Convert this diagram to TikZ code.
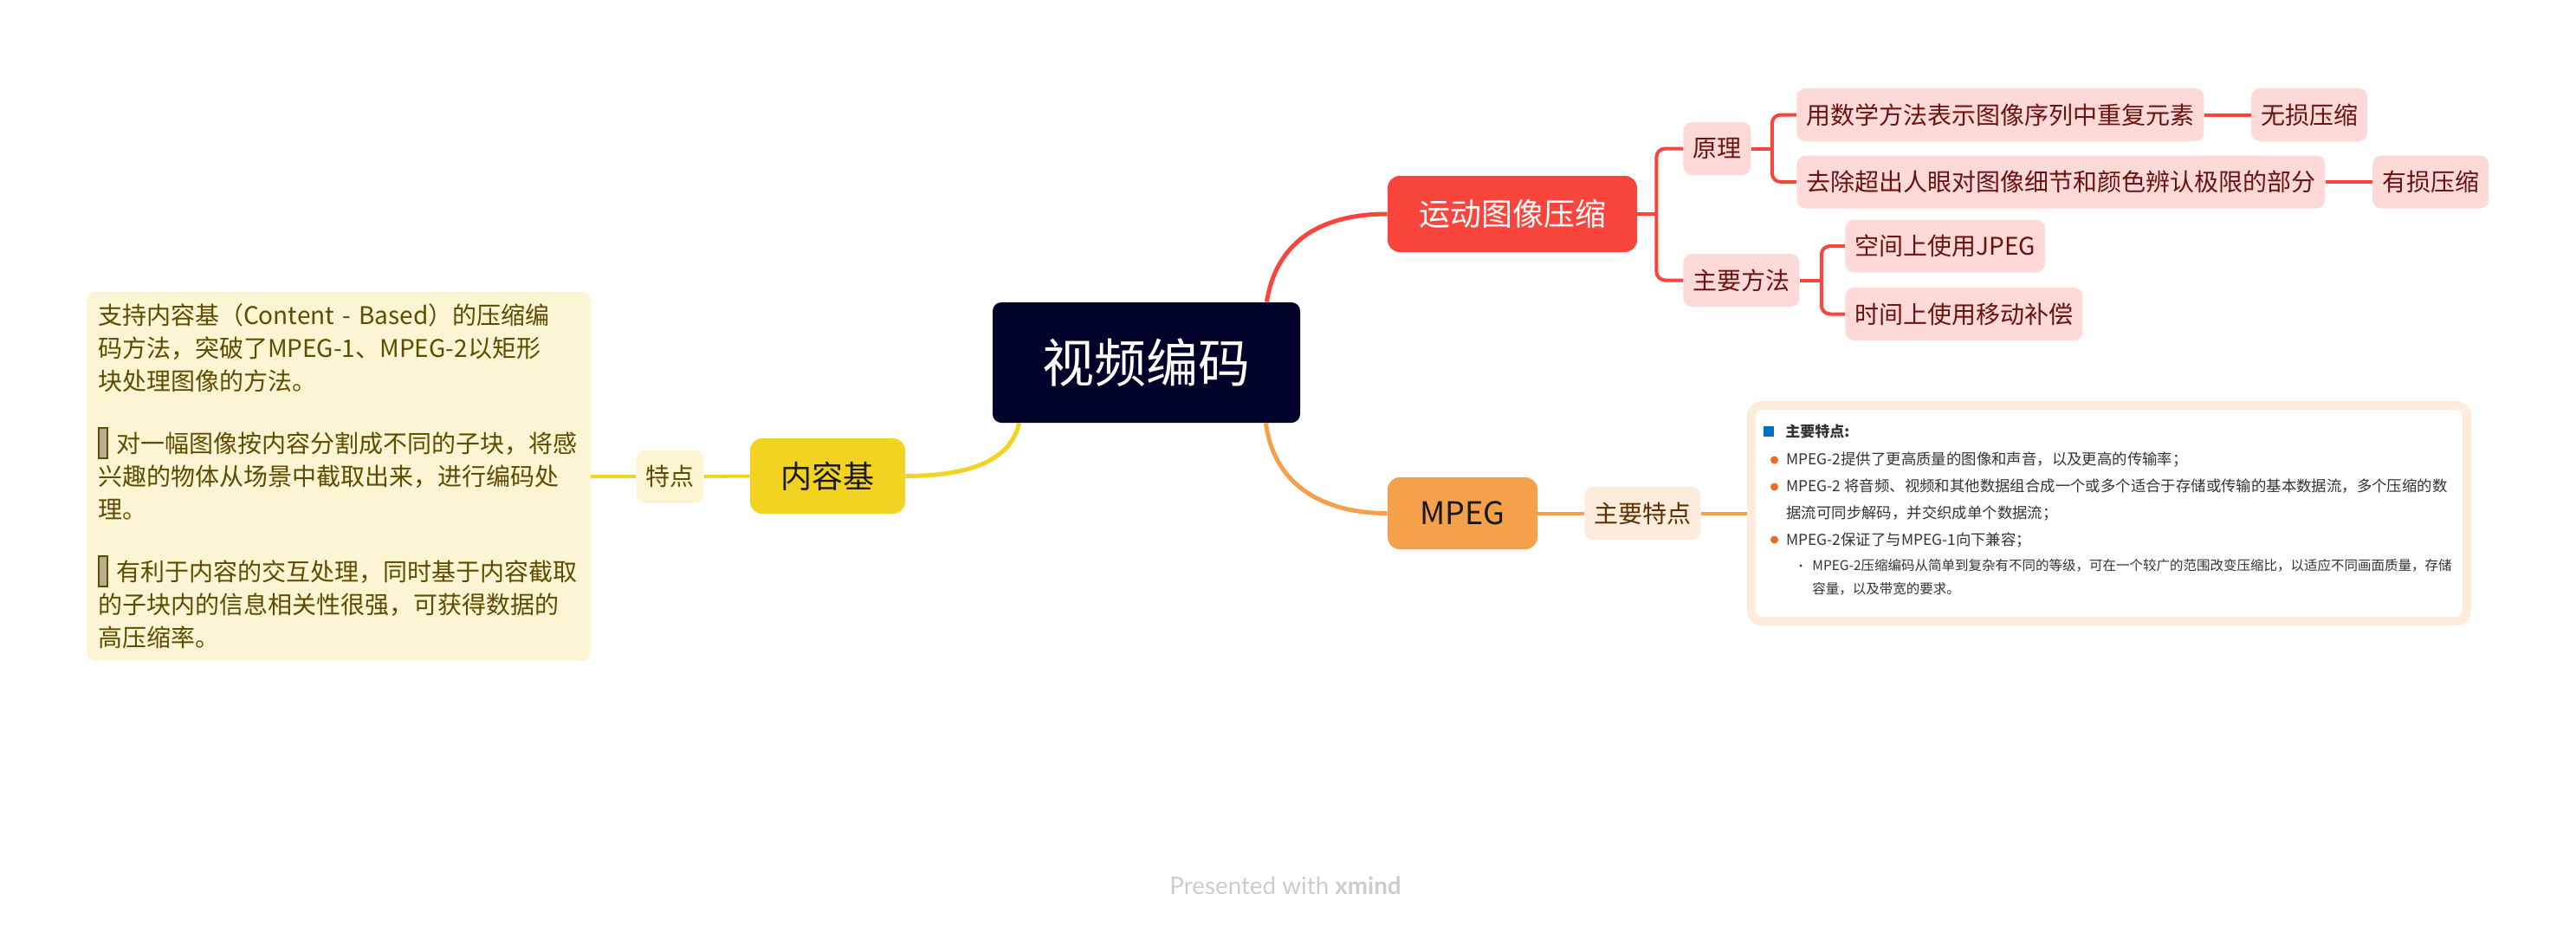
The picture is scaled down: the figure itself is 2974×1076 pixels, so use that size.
\documentclass[tikz,border=0pt]{standalone}
\usepackage{fontspec}
\setmainfont{Noto Sans CJK SC}
\newfontfamily\latofont{Lato}
\usepackage{tikz}
\usetikzlibrary{positioning,calc}
\usepackage{xcolor}

\definecolor{rootbg}{HTML}{000229}
\definecolor{redbr}{HTML}{F9453C}
\definecolor{redsub}{HTML}{FDDAD8}
\definecolor{redtxt}{HTML}{6A1212}
\definecolor{orangebr}{HTML}{F5A04B}
\definecolor{orangesub}{HTML}{FDEBDB}
\definecolor{orangetxt}{HTML}{5C2E00}
\definecolor{yellowbr}{HTML}{F2D322}
\definecolor{yellowsub}{HTML}{FCF5D3}
\definecolor{yellowtxt}{HTML}{5C4B00}
\definecolor{dotorange}{HTML}{F26B1D}
\definecolor{dotblue}{HTML}{0070C0}
\definecolor{notetxt}{HTML}{333333}

% placeholder box for the missing glyph
\newcommand\nochar{\raisebox{-0.2em}{\setlength{\fboxsep}{0pt}\setlength{\fboxrule}{0.9pt}\fcolorbox{yellowtxt}{yellowtxt!45}{\rule{0pt}{1.2em}\hspace{0.3em}}}}

\begin{document}
\begin{tikzpicture}[
    x=0.5pt, y=-0.5pt,
    root/.style={rectangle, rounded corners=5pt, fill=rootbg, text=white, minimum width=177.5pt, minimum height=69.5pt, font=\fontsize{30pt}{36pt}\selectfont},
    topic/.style={rectangle, rounded corners=7pt, font=\fontsize{18pt}{22pt}\selectfont},
    leaf/.style={rectangle, rounded corners=5pt, inner xsep=5.5pt, inner ysep=0pt, minimum height=30.5pt, font=\fontsize{14pt}{17pt}\selectfont},
    redleaf/.style={leaf, fill=redsub, text=redtxt},
    orangeleaf/.style={leaf, fill=orangesub, text=orangetxt},
    yellowleaf/.style={leaf, fill=yellowsub, text=yellowtxt},
    notetext/.style={inner sep=0pt, text=notetxt, align=left},
    branch/.style={line width=2.5pt},
    twig/.style={line width=2pt, rounded corners=5pt}
]
\useasboundingbox (0,0) rectangle (2974,1076);

% main topics
\node[root] (root) at (1323.5,418.5) {视频编码};
\node[topic, fill=redbr, text=white, minimum width=144pt, minimum height=44pt] (yundong) at (1746,247) {运动图像压缩};
\node[topic, fill=orangebr, text=black!90, minimum width=86.5pt, minimum height=41.5pt] (mpeg) at (1688.5,592.5) {MPEG};
\node[topic, fill=yellowbr, text=black!90, minimum width=89.5pt, minimum height=43.5pt] (neirong) at (955.5,549.5) {内容基};

% red branch
\node[redleaf, anchor=west] (yuanli) at (1943,171.5) {原理};
\node[redleaf, anchor=west] (fangfa) at (1943,323.5) {主要方法};
\node[redleaf, anchor=west] (shuxue) at (2074,132.5) {用数学方法表示图像序列中重复元素};
\node[redleaf, right=27pt of shuxue] (wusun) {无损压缩};
\node[redleaf, anchor=west] (quchu) at (2074,210) {去除超出人眼对图像细节和颜色辨认极限的部分};
\node[redleaf, right=27pt of quchu] (yousun) {有损压缩};
\node[redleaf, anchor=west] (kongjian) at (2130,284) {空间上使用JPEG};
\node[redleaf, anchor=west] (shijian) at (2130,362.5) {时间上使用移动补偿};

% orange branch
\node[orangeleaf, anchor=west] (tezheng) at (1829,592.5) {主要特点};
\node[draw=orangesub, line width=5pt, fill=white, rounded corners=6pt, minimum width=413pt, minimum height=124.5pt] (mpegnote) at (2435,592.5) {};
\node[notetext, anchor=west, font=\bfseries\fontsize{8.5pt}{10pt}\selectfont] (notetitle) at (2061,498) {主要特点:};
\node[notetext, anchor=west, font=\fontsize{8.7pt}{15.35pt}\selectfont] (notepoints) at (2062,577) {MPEG-2提供了更高质量的图像和声音，以及更高的传输率；\\MPEG-2 将音频、视频和其他数据组合成一个或多个适合于存储或传输的基本数据流，多个压缩的数\\据流可同步解码，并交织成单个数据流；\\MPEG-2保证了与MPEG-1向下兼容；};
\node[notetext, anchor=west, font=\fontsize{7.75pt}{13.5pt}\selectfont] (notesub) at (2092,666.5) {MPEG-2压缩编码从简单到复杂有不同的等级，可在一个较广的范围改变压缩比，以适应不同画面质量，存储\\容量，以及带宽的要求。};
\fill[dotblue] (2036,492) rectangle (2048,504);
\foreach \y in {531,562,623}
    \fill[dotorange] (2048.5,\y) circle (4.5);
\fill[notetxt] (2079,653) circle (1.6);

% yellow branch
\node[yellowleaf, anchor=east] (tedian) at (813,550) {特点};
\node[fill=yellowsub, rounded corners=5pt, text=yellowtxt, minimum width=291pt, minimum height=213pt, text width=278pt, inner xsep=6.5pt, align=left, font=\fontsize{14pt}{19pt}\selectfont] (leftnote) at (391,550) {支持内容基（Content - Based）的压缩编\\码方法，突破了MPEG-1、MPEG-2以矩形\\块处理图像的方法。\\[17pt]\nochar{} 对一幅图像按内容分割成不同的子块，将感\\兴趣的物体从场景中截取出来，进行编码处\\理。\\[17pt]\nochar{} 有利于内容的交互处理，同时基于内容截取\\的子块内的信息相关性很强，可获得数据的\\高压缩率。};

% connectors
\draw[branch, redbr] ([xshift=-19.5pt]root.north east) .. controls +(12,-75) and +(-70,0) .. (yundong.west);
\draw[branch, orangebr] ([xshift=-20pt]root.south east) .. controls +(10,75) and +(-70,0) .. (mpeg.west);
\draw[branch, yellowbr] ([xshift=15.5pt]root.south west) .. controls +(-10,45) and +(70,0) .. (neirong.east);

\coordinate (yj) at ([xshift=11pt]yundong.east);
\coordinate (lj) at ([xshift=12pt]yuanli.east);
\coordinate (fj) at ([xshift=12.5pt]fangfa.east);
\draw[twig, redbr] (yundong.east) -- (yj);
\draw[twig, redbr] (yj) |- (yuanli.west);
\draw[twig, redbr] (yj) |- (fangfa.west);
\draw[twig, redbr] (yuanli.east) -- (lj);
\draw[twig, redbr] (lj) |- (shuxue.west);
\draw[twig, redbr] (lj) |- (quchu.west);
\draw[twig, redbr] (fangfa.east) -- (fj);
\draw[twig, redbr] (fj) |- (kongjian.west);
\draw[twig, redbr] (fj) |- (shijian.west);
\draw[twig, redbr] (shuxue.east) -- (wusun.west);
\draw[twig, redbr] (quchu.east) -- (yousun.west);

\draw[twig, orangebr] (mpeg.east) -- (tezheng.west);
\draw[twig, orangebr] (tezheng.east) -- (mpegnote.west);
\draw[twig, yellowbr] (neirong.west) -- (tedian.east);
\draw[twig, yellowbr] (tedian.west) -- (leftnote.east);

\node[text=black!20, font=\latofont\fontsize{13.9pt}{16pt}\selectfont] (credit) at (1484,1022) {Presented with \textbf{xmind}};
\end{tikzpicture}
\end{document}
